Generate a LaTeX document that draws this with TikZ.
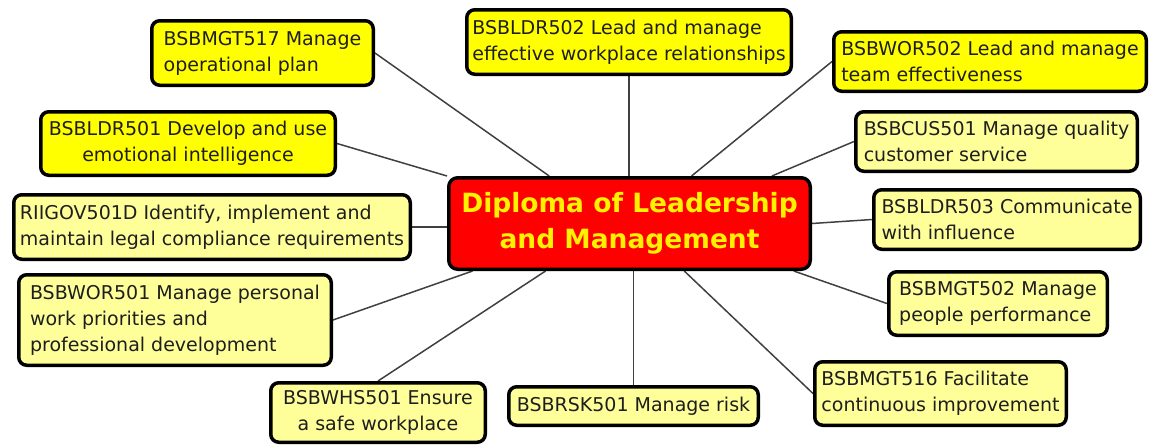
\documentclass[tikz,border=0pt]{standalone}
\usepackage{fontspec}
\setmainfont{DejaVu Sans}
\usetikzlibrary{calc,backgrounds}
\definecolor{brightY}{RGB}{255,255,0}
\definecolor{paleY}{RGB}{255,255,153}
\definecolor{redC}{RGB}{255,0,0}
\definecolor{titleY}{RGB}{255,242,0}
\definecolor{lineG}{RGB}{64,64,64}
\definecolor{txt}{RGB}{30,30,30}
\begin{document}
\begin{tikzpicture}[x=1pt,y=-1pt,
  unit/.style={draw=black, line width=3.5pt, rounded corners=8pt, inner sep=0pt, text=txt, font=\fontsize{19}{26}\selectfont},
  bright/.style={unit, fill=brightY},
  pale/.style={unit, fill=paleY},
  hub/.style={draw=black, line width=3.5pt, rounded corners=9pt, inner sep=0pt, fill=redC, text=titleY, font=\bfseries\fontsize{26.5}{36}\selectfont, align=center},
  link/.style={draw=lineG, line width=1.5pt}]
\useasboundingbox (0,0) rectangle (1157,445);

\node[hub, minimum width=361.5pt, minimum height=91.5pt] (c) at (629.5,223.5) {Diploma of Leadership\\and Management};

\node[bright, align=left, minimum width=221.5pt, minimum height=64.5pt] (m517) at (262.5,53) {BSBMGT517 Manage\\operational plan};
\node[bright, align=center, minimum width=294.5pt, minimum height=63.5pt] (l501) at (188,143.5) {BSBLDR501 Develop and use\\emotional intelligence};
\node[pale, align=left, minimum width=396.5pt, minimum height=64.5pt] (gov) at (212,227) {RIIGOV501D Identify, implement and\\maintain legal compliance requirements};
\node[pale, align=left, minimum width=312.5pt, minimum height=90.5pt] (w501) at (175,320) {BSBWOR501 Manage personal\\work priorities and\\professional development};
\node[pale, align=center, minimum width=214.5pt, minimum height=59.5pt] (whs) at (378,412.5) {BSBWHS501 Ensure\\a safe workplace};
\node[pale, align=left, minimum width=249.5pt, minimum height=38.5pt] (rsk) at (633.5,406) {BSBRSK501 Manage risk};
\node[pale, align=left, minimum width=251.5pt, minimum height=63.5pt] (m516) at (940.5,393.5) {BSBMGT516 Facilitate\\continuous improvement};
\node[pale, align=left, minimum width=218.5pt, minimum height=63.5pt] (m502) at (998,303.5) {BSBMGT502 Manage\\people performance};
\node[pale, align=left, minimum width=266.5pt, minimum height=59.5pt] (l503) at (1007,219.5) {BSBLDR503 Communicate\\with influence};
\node[pale, align=left, minimum width=281.5pt, minimum height=59.5pt] (cus) at (996.5,141.5) {BSBCUS501 Manage quality\\customer service};
\node[bright, align=left, minimum width=312.5pt, minimum height=59.5pt] (w502) at (990,61.5) {BSBWOR502 Lead and manage\\team effectiveness};
\node[bright, align=left, minimum width=324.5pt, minimum height=64.5pt] (l502) at (629,42) {BSBLDR502 Lead and manage\\effective workplace relationships};

\begin{pgfonlayer}{background}
\draw[link] (m517.east) -- ($(c.north west)!0.28!(c.north east)$);
\draw[link] (l501.east) -- (c.north west);
\draw[link] (gov.east) -- (gov.east -| c.west);
\draw[link] (w501.east) -- ($(c.south west)!0.07!(c.south east)$);
\draw[link] (whs.north) -- ($(c.south west)!0.27!(c.south east)$);
\draw[link] (rsk.north) -- (rsk.north |- c.south);
\draw[link] (m516.west) -- ($(c.south west)!0.65!(c.south east)$);
\draw[link] (m502.west) -- ($(c.south west)!0.95!(c.south east)$);
\draw[link] (l503.west) -- (c.east);
\draw[link] (cus.west) -- ($(c.north west)!0.89!(c.north east)$);
\draw[link] (w502.west) -- ($(c.north west)!0.67!(c.north east)$);
\draw[link] (l502.south) -- (l502.south |- c.north);
\end{pgfonlayer}
\end{tikzpicture}
\end{document}
